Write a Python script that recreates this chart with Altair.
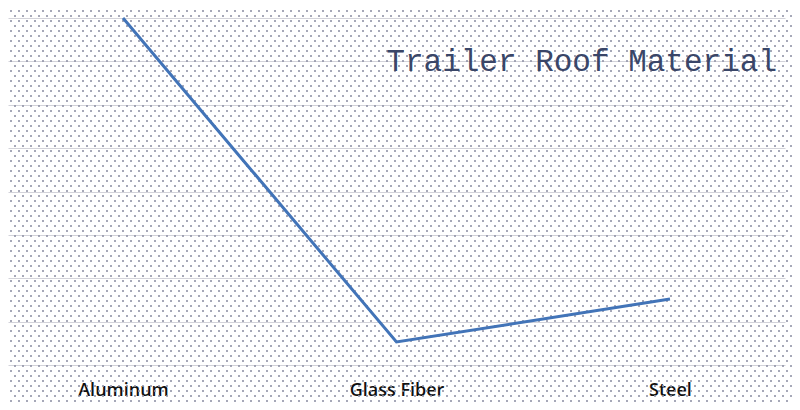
import altair as alt
import pandas as pd

# data
materials = ["Aluminum", "Glass Fiber", "Steel"]
values = [8.0, 0.53, 1.52]
grid_values = [0, 1, 2, 3, 4, 5, 6, 7, 8]
title_text = ["Trailer Roof Material"]

df = pd.DataFrame({"material": materials, "value": values})

W, H = 777, 347

# decorative dotted background texture (Excel-style pattern fill)
dots = alt.Chart(alt.sequence(0, 7800)).transform_calculate(
    col="datum.data % 98",
    row="floor(datum.data / 98)",
).transform_calculate(
    px="datum.col * 8 + (datum.row % 2) * 4 + 3",
    py="datum.row * 5 - 7",
).mark_square(size=3.5, color="#8f92a6", opacity=0.85).encode(
    x=alt.X("px:Q", scale=None, axis=None),
    y=alt.Y("py:Q", scale=None, axis=None),
)

base = alt.Chart(df)

line = base.mark_line(color="#4274b8", strokeWidth=3).encode(
    x=alt.X(
        "material:N",
        sort=materials,
        scale=alt.Scale(type="point", padding=0.4205),
        axis=alt.Axis(
            title=None, labelAngle=0, domain=False, ticks=False, grid=False,
            labelFont="Open Sans", labelFontSize=18, labelFontWeight=600,
            labelColor="#111111", labelPadding=16,
        ),
    ),
    y=alt.Y(
        "value:Q",
        scale=alt.Scale(domain=[0, 8], nice=False, zero=True),
        axis=alt.Axis(
            values=grid_values, labels=False, ticks=False, domain=False,
            title=None, grid=True, gridColor="#d3d3da", gridWidth=1,
        ),
    ),
)

title = alt.Chart(pd.DataFrame({"t": title_text})).mark_text(
    font="Liberation Mono", fontSize=31, color="#3a4668",
    align="right", baseline="alphabetic",
).encode(
    text="t:N",
    x=alt.value(769),
    y=alt.value(53),
)

chart = alt.layer(dots, line, title).resolve_scale(x="independent", y="independent").properties(
    width=W,
    height=H,
    background="white",
    autosize=alt.AutoSizeParams(type="none"),
    padding={"left": 0, "top": 10, "right": 7, "bottom": 37},
).configure_view(strokeWidth=0, stroke="transparent")

chart.save("out.html", embed_options={"renderer": "svg", "actions": False})
